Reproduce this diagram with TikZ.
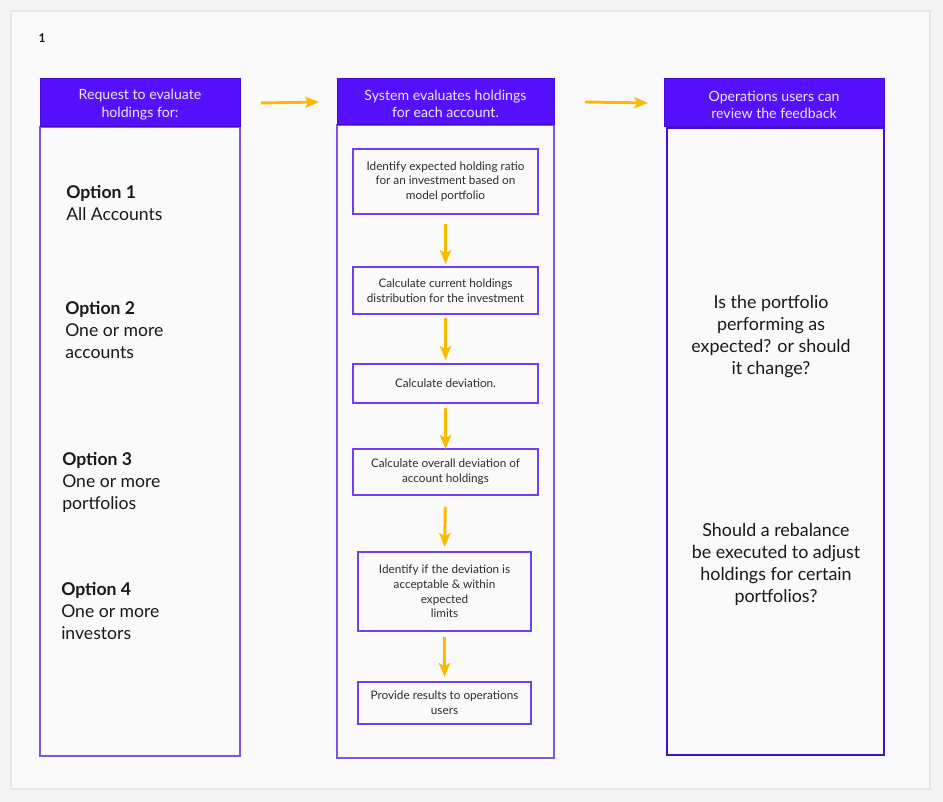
\documentclass[tikz,border=0pt]{standalone}
\usepackage{fontspec}
\setmainfont{Lato}
\usetikzlibrary{arrows.meta,fit}
\definecolor{bgout}{RGB}{244,244,244}
\definecolor{bgin}{RGB}{250,250,250}
\definecolor{framecol}{RGB}{230,230,230}
\definecolor{hdrfill}{RGB}{84,16,255}
\definecolor{hdrtxt}{RGB}{238,232,255}
\definecolor{colline}{RGB}{125,85,225}
\definecolor{colline3}{RGB}{72,12,210}
\definecolor{boxline}{RGB}{112,62,245}
\definecolor{arrcol}{RGB}{255,184,0}
\definecolor{txt}{RGB}{25,25,25}
\definecolor{txtsm}{RGB}{45,45,45}
\tikzset{
  hdrbox/.style={fill=hdrfill, draw=hdrfill!80!black, line width=0.75pt, inner sep=0pt, outer sep=0pt},
  hdrtext/.style={text=hdrtxt, align=center, font=\fontsize{10.6}{12.8}\selectfont, inner sep=0pt},
  colbox/.style={draw=colline, line width=1.1pt, inner sep=0pt, outer sep=0pt},
  colboxdark/.style={draw=colline3, line width=1.1pt, inner sep=0pt, outer sep=0pt},
  stepbox/.style={draw=boxline, line width=1.1pt, inner sep=0pt, outer sep=0pt},
  steptext/.style={text=txtsm, align=center, font=\fontsize{8.8}{11}\selectfont, inner sep=0pt},
  opttext/.style={text=txt, align=left, anchor=west, font=\fontsize{13.2}{16.5}\selectfont, inner sep=0pt},
  rtext/.style={text=txt, align=center, font=\fontsize{13.4}{16.5}\selectfont, inner sep=0pt},
  arr/.style={draw=arrcol, line width=2.2pt, -{Stealth[length=10.5pt,width=8.5pt,inset=2.5pt]}}
}
\begin{document}
\begin{tikzpicture}[x=0.75pt,y=-0.75pt]
\useasboundingbox (0,0) rectangle (943,802);
\fill[bgout] (0,0) rectangle (943,802);
\draw[fill=bgin, draw=framecol, line width=2.2pt] (11,11) rectangle (930,789);

\node[text=txt, font=\bfseries\fontsize{9}{10}\selectfont, inner sep=0pt] (num) at (42,38) {1};

% column bodies
\node[colbox, fit={(40,127)(240,756)}] (c1) {};
\node[colbox, fit={(337,125)(554,758)}] (c2) {};
\node[colboxdark, fit={(667,128)(884,755)}] (c3) {};

% headers
\node[hdrbox, fit={(40,79)(240,127)}] (h1) {};
\node[hdrtext] (h1t) at ([yshift=-1.2pt]h1.center) {Request to evaluate\\holdings for:};
\node[hdrbox, fit={(337,79)(554,125)}] (h2) {};
\node[hdrtext] (h2t) at ([yshift=-1.2pt]h2.center) {System evaluates holdings\\for each account.};
\node[hdrbox, fit={(664,79)(884,127)}] (h3) {};
\node[hdrtext] (h3t) at ([yshift=-1.2pt]h3.center) {Operations users can\\review the feedback};

\draw[arr] ([xshift=15.75pt]h1.east) -- ([xshift=-13.5pt]h2.west);
\draw[arr] ([xshift=23.25pt]h2.east) -- ([xshift=-12pt]h3.west);

% options
\node[opttext] (o1) at (66,203) {\textbf{Option 1}\\All Accounts};
\node[opttext] (o2) at (65,330) {\textbf{Option 2}\\One or more\\accounts};
\node[opttext] (o3) at (62,482) {\textbf{Option 3}\\One or more\\portfolios};
\node[opttext] (o4) at (61,611) {\textbf{Option 4}\\One or more\\investors};

% steps
\node[stepbox, fit={(353,149)(538,214)}] (b1) {};
\node[steptext] (b1t) at (b1.center) {Identify expected holding ratio\\for an investment based on\\model portfolio};
\node[stepbox, fit={(353,267)(538,314)}] (b2) {};
\node[steptext] (b2t) at (b2.center) {Calculate current holdings\\distribution for the investment};
\node[stepbox, fit={(353,364)(538,403)}] (b3) {};
\node[steptext] (b3t) at (b3.center) {Calculate deviation.};
\node[stepbox, fit={(353,449)(538,495)}] (b4) {};
\node[steptext] (b4t) at (b4.center) {Calculate overall deviation of\\account holdings};
\node[stepbox, fit={(358,552)(531,631)}] (b5) {};
\node[steptext] (b5t) at (b5.center) {Identify if the deviation is\\acceptable \& within\\expected\\limits};
\node[stepbox, fit={(358,682)(531,724)}] (b6) {};
\node[steptext] (b6t) at (b6.center) {Provide results to operations\\users};

\draw[arr, shorten <=7.5pt, shorten >=2.25pt] (b1.south) -- (b2.north);
\draw[arr, shorten <=3pt, shorten >=3pt] (b2.south) -- (b3.north);
\draw[arr, shorten <=3.75pt, shorten >=0pt] (b3.south) -- (b4.north);
\draw[arr, shorten <=9pt, shorten >=3.75pt] (b4.south) -- (b5.north);
\draw[arr, shorten <=4.5pt, shorten >=3.75pt] (b5.south) -- (b6.north);

% right column
\node[rtext] (r1) at (771,337) {Is the portfolio\\performing as\\expected? or should\\it change?};
\node[rtext] (r2) at (776,564) {Should a rebalance\\be executed to adjust\\holdings for certain\\portfolios?};
\end{tikzpicture}
\end{document}
